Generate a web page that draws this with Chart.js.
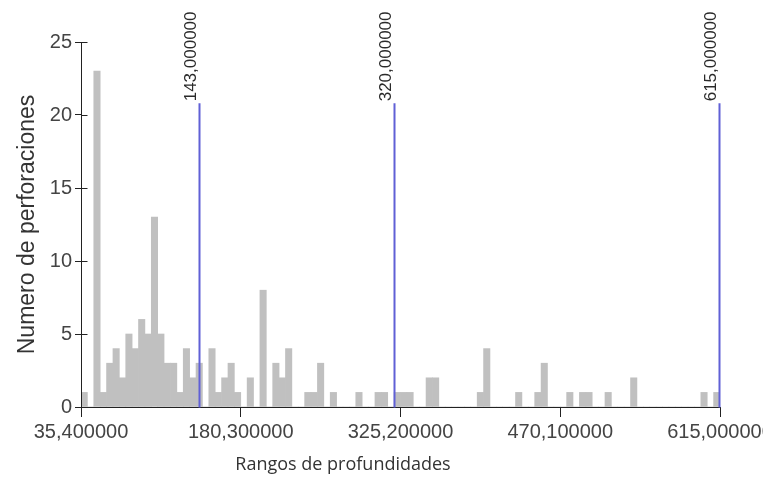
<!DOCTYPE html>
<html>
<head>
<meta charset="utf-8">
<script src="https://cdn.jsdelivr.net/npm/chart.js@4"></script>
<style>
  html, body { margin: 0; padding: 0; background: #fff; }
  #wrap { width: 763px; height: 477px; overflow: hidden; }
</style>
</head>
<body>
<div id="wrap"><canvas id="myChart" width="769" height="477"></canvas></div>
<script>
// Histograma: 100 intervalos entre 35.4 y 615
const binStart = 35.4;
const binWidth = 5.796;
const counts = [
  1, 0, 23, 1, 3, 4, 2, 5, 4, 6,
  5, 13, 5, 3, 3, 1, 4, 2, 3, 0,
  4, 1, 2, 3, 1, 0, 2, 0, 8, 0,
  3, 2, 4, 0, 0, 1, 1, 3, 0, 1,
  0, 0, 0, 1, 0, 0, 1, 1, 0, 1,
  1, 1, 0, 0, 2, 2, 0, 0, 0, 0,
  0, 0, 1, 4, 0, 0, 0, 0, 1, 0,
  0, 1, 3, 0, 0, 0, 1, 0, 1, 1,
  0, 0, 1, 0, 0, 0, 2, 0, 0, 0,
  0, 0, 0, 0, 0, 0, 0, 1, 0, 1
];
const xTicks = [35.4, 180.3, 325.2, 470.1, 615];
const xTickLabels = ['35,400000', '180,300000', '325,200000', '470,100000', '615,000000'];
const yTicks = [0, 5, 10, 15, 20, 25];
const markers = [143, 320, 615];
const markerLabels = ['143,000000', '320,000000', '615,000000'];
const markerTop = 20.8;

const points = counts.map((c, i) => ({ x: binStart + binWidth * (i + 0.5), y: c }));

// ejes, lineas verticales azules y titulo del eje x
const markerPlugin = {
  id: 'markers',
  afterDatasetsDraw(chart) {
    const { ctx, scales: { x, y } } = chart;
    const x0 = Math.round(x.getPixelForValue(binStart)) + 0.5;
    const y0 = Math.round(y.getPixelForValue(0)) + 0.5;
    ctx.save();
    ctx.strokeStyle = '#222';
    ctx.lineWidth = 1;
    ctx.beginPath();
    ctx.moveTo(x0, y.getPixelForValue(25));
    ctx.lineTo(x0, y0 + 6);
    ctx.moveTo(x0, y0);
    ctx.lineTo(x.getPixelForValue(615), y0);
    yTicks.forEach(v => {
      const py = Math.round(y.getPixelForValue(v)) + 0.5;
      ctx.moveTo(x0, py);
      ctx.lineTo(x0 + 6, py);
    });
    ctx.stroke();

    markers.forEach((m, i) => {
      const px = Math.round(x.getPixelForValue(m)) - 0.5;
      ctx.strokeStyle = 'rgb(96,96,214)';
      ctx.lineWidth = 2;
      ctx.beginPath();
      ctx.moveTo(px, y0);
      ctx.lineTo(px, y.getPixelForValue(markerTop));
      ctx.stroke();
      ctx.save();
      ctx.translate(px - 4, y.getPixelForValue(markerTop) - 2);
      ctx.rotate(-Math.PI / 2);
      ctx.fillStyle = '#2a2a2a';
      ctx.font = '17px "Liberation Sans", Arial, sans-serif';
      ctx.textAlign = 'left';
      ctx.textBaseline = 'alphabetic';
      ctx.fillText(markerLabels[i], 0, 0);
      ctx.restore();
    });
    ctx.fillStyle = '#333';
    ctx.font = '18px "Open Sans", sans-serif';
    ctx.textAlign = 'center';
    ctx.textBaseline = 'middle';
    ctx.fillText('Rangos de profundidades', 343, 465);
    ctx.restore();
  }
};

const ctx = document.getElementById('myChart').getContext('2d');
const myChart = new Chart(ctx, {
  type: 'bar',
  data: {
    datasets: [{
      label: 'Numero de perforaciones',
      data: points,
      backgroundColor: 'rgb(192,192,192)',
      borderWidth: 0,
      barPercentage: 1,
      categoryPercentage: 1
    }]
  },
  options: {
    responsive: false,
    animation: false,
    layout: { padding: { left: 0, right: 49, top: 42, bottom: 0 } },
    plugins: { legend: { display: false }, tooltip: { enabled: false } },
    scales: {
      x: {
        type: 'linear',
        min: 35.4,
        max: 615,
        offset: false,
        afterBuildTicks(scale) { scale.ticks = xTicks.map(v => ({ value: v })); },
        afterFit(scale) {
          scale.height = 70;
          scale.paddingLeft = 0;
          scale.paddingRight = 0;
        },
        ticks: {
          autoSkip: false,
          maxRotation: 0,
          color: '#444',
          font: { family: '"Liberation Sans", Arial, sans-serif', size: 20 },
          padding: 3,
          callback(v, i) { return xTickLabels[i]; }
        },
        grid: { offset: false, drawOnChartArea: false, tickLength: 10, color: '#222' },
        border: { display: false }
      },
      y: {
        min: 0,
        max: 25,
        afterBuildTicks(scale) { scale.ticks = yTicks.map(v => ({ value: v })); },
        afterFit(scale) { scale.width = 81; },
        ticks: {
          color: '#444',
          font: { family: '"Liberation Sans", Arial, sans-serif', size: 20 },
          padding: 3
        },
        grid: { drawOnChartArea: false, tickLength: 6, color: '#222' },
        border: { display: false },
        title: {
          display: true,
          text: 'Numero de perforaciones',
          color: '#333',
          font: { family: '"Liberation Sans", Arial, sans-serif', size: 23 },
          padding: { top: 14, bottom: 0 }
        }
      }
    }
  },
  plugins: [markerPlugin]
});
</script>
</body>
</html>
